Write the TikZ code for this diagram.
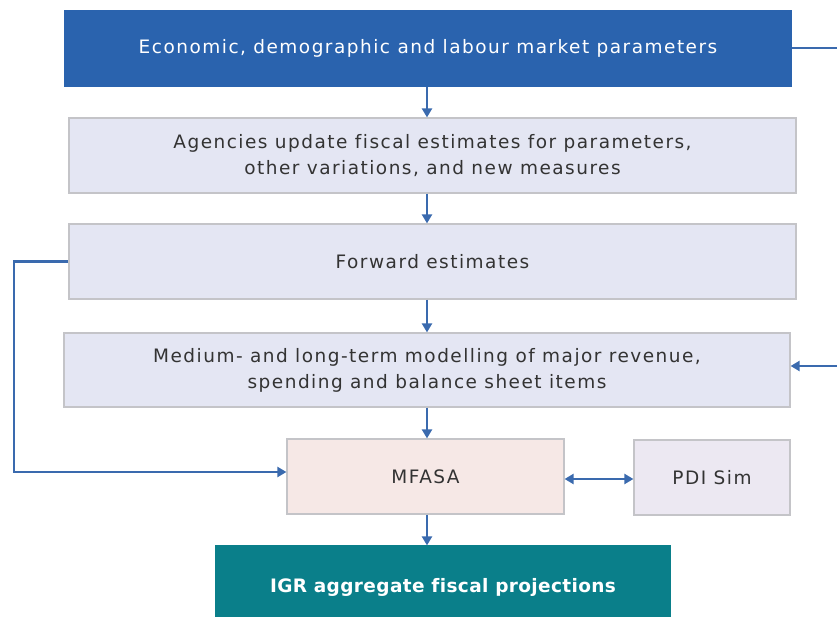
\documentclass[tikz,border=0pt]{standalone}
\usepackage{fontspec}
\setmainfont{DejaVu Sans}[LetterSpace=8,Ligatures=NoCommon]
\newfontfamily\boldf{DejaVu Sans}[LetterSpace=2,Ligatures=NoCommon]
\usetikzlibrary{arrows.meta,calc}
\definecolor{dblue}{HTML}{2A63AE}
\definecolor{lav}{HTML}{E4E6F3}
\definecolor{pinkb}{HTML}{F6E8E6}
\definecolor{pdic}{HTML}{ECE8F2}
\definecolor{teal}{HTML}{0A7F8A}
\definecolor{linec}{HTML}{3A6AAE}
\definecolor{txt}{HTML}{333333}
\definecolor{bord}{HTML}{C4C4C8}
\begin{document}
\begin{tikzpicture}[x=1pt,y=-1pt,
  box/.style={draw=bord,line width=1.2pt,fill=lav,text=txt,align=center,inner sep=0pt,
    font=\fontsize{18.5}{26}\selectfont},
  conn/.style={draw=linec,line width=2.6pt},
  arr/.style={conn,-{Triangle[length=9pt,width=10pt]}},
  darr/.style={conn,{Triangle[length=9pt,width=10pt]}-{Triangle[length=9pt,width=10pt]}}]
\useasboundingbox (0,0) rectangle (837,617);
\clip (0,0) rectangle (837,617);
\node[box,draw=dblue,fill=dblue,text=white,minimum width=726pt,minimum height=75pt] (b1) at (428,48.5) {Economic, demographic and labour market parameters};
\node[box,minimum width=727pt,minimum height=75pt] (b2) at (432.5,155.5) {Agencies update fiscal estimates for parameters,\\other variations, and new measures};
\node[box,minimum width=727pt,minimum height=75pt] (b3) at (432.5,261.5) {Forward estimates};
\node[box,minimum width=726pt,minimum height=74pt] (b4) at (427,370) {Medium- and long-term modelling of major revenue,\\spending and balance sheet items};
\node[box,fill=pinkb,minimum width=277pt,minimum height=75pt] (m) at (425.5,476.5) {MFASA};
\node[box,fill=pdic,minimum width=156pt,minimum height=75pt] (p) at (712,477.5) {PDI Sim};
\node[box,draw=teal,fill=teal,text=white,minimum width=454pt,minimum height=82pt,font=\boldf\fontsize{18.5}{23}\selectfont\bfseries] (igr) at (443,587) {IGR aggregate fiscal projections};
\coordinate (lc) at (14,472);
\coordinate (r1) at (837,48);
\coordinate (r2) at (837,366);
\draw[arr] (b1.south -| 427,0) -- (b2.north -| 427,0);
\draw[arr] (b2.south -| 427,0) -- (b3.north -| 427,0);
\draw[arr] (b3.south -| 427,0) -- (b4.north -| 427,0);
\draw[arr] (b4.south -| 427,0) -- (m.north -| 427,0);
\draw[arr] (m.south -| 427,0) -- (igr.north -| 427,0);
\draw[arr] (b3.west) -- (b3.west -| lc) -- (lc) -- (lc -| m.west);
\draw[conn] (b1.east |- r1) -- (r1);
\draw[arr] (r2) -- (r2 -| b4.east);
\draw[darr] (m.east |- 0,479) -- (p.west |- 0,479);
\end{tikzpicture}
\end{document}
